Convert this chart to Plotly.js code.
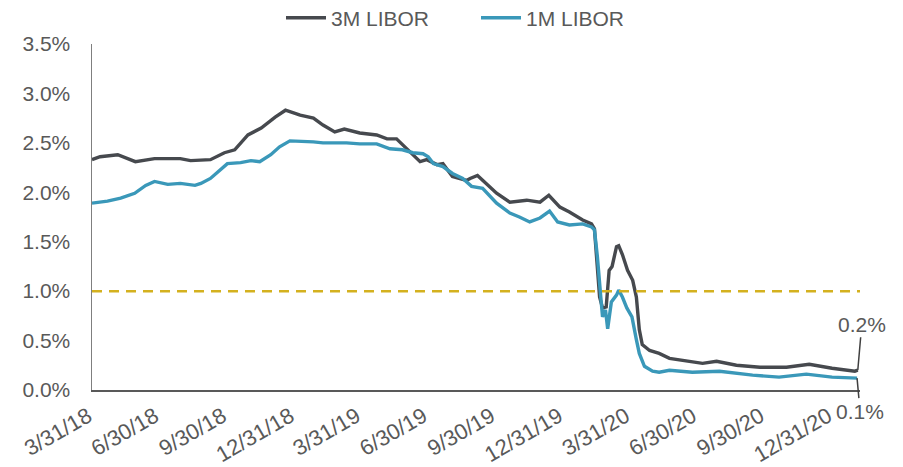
<!DOCTYPE html>
<html>
<head>
<meta charset="utf-8">
<script src="https://cdn.plot.ly/plotly-3.0.1.min.js"></script>
<style>
  html, body { margin: 0; padding: 0; background: #fff; }
  #chart { width: 903px; height: 467px; }
</style>
</head>
<body>
<div id="chart"></div>
<script>
const dates3M = [
  '2018-03-31','2018-04-11','2018-05-05','2018-05-29','2018-06-24','2018-07-29','2018-08-12','2018-09-08',
  '2018-09-27','2018-10-11','2018-10-29','2018-11-16','2018-12-05','2018-12-19','2019-01-08','2019-01-26',
  '2019-02-08','2019-02-24','2019-03-09','2019-03-30','2019-04-22','2019-05-06','2019-05-19','2019-05-30',
  '2019-06-10','2019-06-20','2019-06-29','2019-07-13','2019-07-21','2019-08-03','2019-08-22','2019-08-27',
  '2019-09-06','2019-09-18','2019-10-02','2019-10-20','2019-11-12','2019-11-30','2019-12-12','2019-12-27',
  '2020-01-09','2020-01-27','2020-02-08','2020-02-12','2020-02-15','2020-02-19','2020-02-23','2020-02-28',
  '2020-03-03','2020-03-07','2020-03-13','2020-03-16','2020-03-21','2020-03-28','2020-04-04','2020-04-09',
  '2020-04-13','2020-04-17','2020-04-27','2020-05-10','2020-05-24','2020-06-16','2020-07-08','2020-07-27',
  '2020-08-23','2020-09-24','2020-10-30','2020-11-30','2020-12-31','2021-01-31','2021-02-04'
];
const libor3M = [
  2.33, 2.36, 2.38, 2.31, 2.34, 2.34, 2.32, 2.33,
  2.40, 2.43, 2.58, 2.65, 2.76, 2.83, 2.78, 2.75,
  2.68, 2.61, 2.64, 2.60, 2.58, 2.54, 2.54, 2.46,
  2.38, 2.31, 2.33, 2.28, 2.29, 2.16, 2.12, 2.14,
  2.17, 2.09, 1.99, 1.90, 1.92, 1.90, 1.97, 1.85,
  1.80, 1.72, 1.68, 1.63, 1.28, 0.94, 0.83, 0.84,
  1.21, 1.25, 1.45, 1.46, 1.37, 1.21, 1.11, 0.94,
  0.61, 0.46, 0.40, 0.37, 0.32, 0.29, 0.27, 0.29,
  0.25, 0.23, 0.23, 0.26, 0.22, 0.19, 0.20
];
const dates1M = [
  '2018-03-31','2018-04-21','2018-05-09','2018-05-28','2018-06-12','2018-06-24','2018-07-12','2018-07-29',
  '2018-08-18','2018-08-26','2018-09-08','2018-09-22','2018-10-01','2018-10-19','2018-11-02','2018-11-14',
  '2018-11-29','2018-12-11','2018-12-25','2019-01-26','2019-02-08','2019-03-12','2019-03-30','2019-04-22',
  '2019-05-10','2019-05-27','2019-06-10','2019-06-24','2019-07-01','2019-07-08','2019-07-21','2019-08-03',
  '2019-08-17','2019-08-29','2019-09-13','2019-10-02','2019-10-20','2019-11-02','2019-11-16','2019-11-30',
  '2019-12-13','2019-12-24','2020-01-09','2020-01-27','2020-02-08','2020-02-12','2020-02-16','2020-02-21',
  '2020-02-23','2020-02-27','2020-03-01','2020-03-06','2020-03-13','2020-03-16','2020-03-21','2020-03-27',
  '2020-04-03','2020-04-09','2020-04-13','2020-04-20','2020-05-01','2020-05-10','2020-05-24','2020-06-24',
  '2020-07-31','2020-09-14','2020-10-20','2020-11-26','2020-12-31','2021-02-03'
];
const libor1M = [
  1.89, 1.91, 1.94, 1.99, 2.07, 2.11, 2.08, 2.09,
  2.07, 2.09, 2.14, 2.23, 2.29, 2.30, 2.32, 2.31,
  2.38, 2.46, 2.52, 2.51, 2.50, 2.50, 2.49, 2.49,
  2.44, 2.43, 2.40, 2.39, 2.36, 2.29, 2.26, 2.19,
  2.14, 2.06, 2.04, 1.89, 1.79, 1.75, 1.70, 1.74,
  1.81, 1.70, 1.67, 1.68, 1.65, 1.62, 1.35, 0.91,
  0.74, 0.81, 0.62, 0.89, 0.96, 1.01, 0.94, 0.83,
  0.74, 0.51, 0.37, 0.24, 0.19, 0.18, 0.20, 0.18,
  0.19, 0.15, 0.13, 0.16, 0.13, 0.12
];
const tickDates = ['2018-03-31','2018-06-30','2018-09-30','2018-12-31','2019-03-31','2019-06-30',
  '2019-09-30','2019-12-31','2020-03-31','2020-06-30','2020-09-30','2020-12-31'];
const tickLabels = ['3/31/18','6/30/18','9/30/18','12/31/18','3/31/19','6/30/19',
  '9/30/19','12/31/19','3/31/20','6/30/20','9/30/20','12/31/20'];
const yTicks = [0, 0.5, 1.0, 1.5, 2.0, 2.5, 3.0, 3.5];
const yTickLabels = ['0.0%','0.5%','1.0%','1.5%','2.0%','2.5%','3.0%','3.5%'];
const refLevel = 1.0;

const textColor = '#595959';
const fam = 'Liberation Sans, Arial, sans-serif';

const traces = [
  {x: dates3M, y: libor3M, name: '3M LIBOR', mode: 'lines', type: 'scatter',
   line: {color: '#46494e', width: 3.4}},
  {x: dates1M, y: libor1M, name: '1M LIBOR', mode: 'lines', type: 'scatter',
   line: {color: '#3a98b9', width: 3.4}}
];

const n3 = libor3M.length, n1 = libor1M.length;
const layout = {
  width: 903, height: 467,
  margin: {l: 92, r: 43, t: 44, b: 77, autoexpand: false},
  paper_bgcolor: '#fff', plot_bgcolor: '#fff',
  font: {family: fam, size: 21, color: textColor},
  showlegend: true,
  legend: {orientation: 'h', x: 0.5, xanchor: 'center', y: 1.075, yanchor: 'middle',
           font: {family: fam, size: 21, color: textColor}, itemwidth: 40,
           entrywidth: 140, traceorder: 'normal'},
  xaxis: {type: 'date', range: ['2018-03-31', '2021-02-07'],
          tickvals: tickDates, ticktext: tickLabels, tickangle: -30,
          showgrid: false, zeroline: false, showline: true, linecolor: '#595959', linewidth: 2,
          ticks: '', ticklabelshift: -4, ticklabelstandoff: 3,
          tickfont: {family: fam, size: 22, color: textColor}},
  yaxis: {range: [0, 3.5], tickvals: yTicks, ticktext: yTickLabels,
          showgrid: false, zeroline: false, showline: true, linecolor: '#7f7f7f', linewidth: 1.5,
          ticks: '', ticklabelstandoff: 16,
          tickfont: {family: fam, size: 21, color: textColor}},
  shapes: [
    {type: 'line', xref: 'paper', x0: 0, x1: 1, yref: 'y', y0: refLevel, y1: refLevel,
     line: {color: '#d4b11f', width: 2.5, dash: '10px,7px'}}
  ],
  annotations: [
    {x: dates3M[n3-1], y: libor3M[n3-1], text: '0.2%', showarrow: true, arrowhead: 0,
     arrowwidth: 1.5, arrowcolor: '#404040', ax: 4, ay: -46, standoff: 0,
     font: {family: fam, size: 21, color: textColor}},
    {x: dates1M[n1-1], y: libor1M[n1-1], text: '0.1%', showarrow: true, arrowhead: 0,
     arrowwidth: 1.5, arrowcolor: '#404040', ax: 3, ay: 33, standoff: 0,
     font: {family: fam, size: 21, color: textColor}}
  ]
};

Plotly.newPlot('chart', traces, layout, {displayModeBar: false, staticPlot: true});
</script>
</body>
</html>
